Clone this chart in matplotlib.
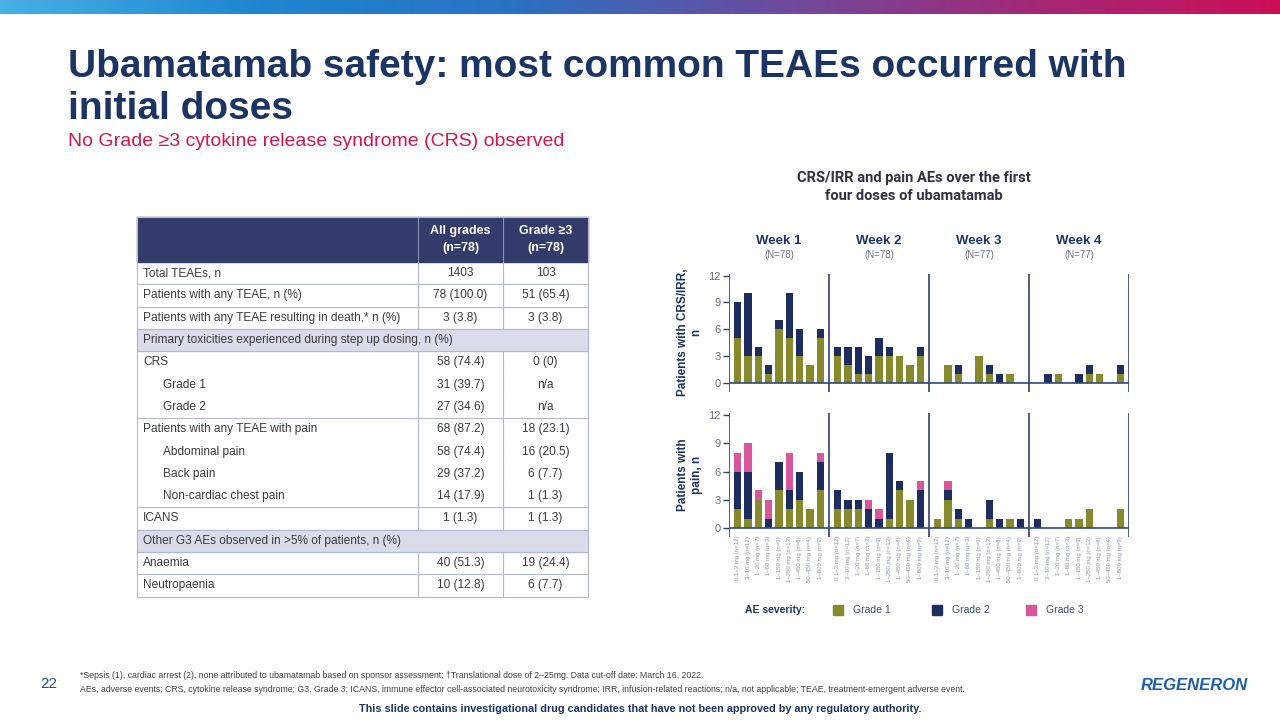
import numpy as np
import matplotlib.pyplot as plt
from matplotlib.colors import LinearSegmentedColormap
from matplotlib.patches import Rectangle

plt.rcParams['font.family'] = ['Liberation Sans', 'DejaVu Sans']

W, H = 1280, 720

weeks = ['Week 1', 'Week 2', 'Week 3', 'Week 4']
week_n = ['(N=78)', '(N=78)', '(N=77)', '(N=77)']
doses = ['0.1–3 mg (n=12)', '3–10 mg (n=12)', '1–20 mg (n=7)', '1–60 mg (n=3)',
         '1–150 mg (n=9)', '1–250 mg (n=13)', '1–450 mg (n=8)', '50–450 mg (n=4)',
         '1–800 mg (n=9)']

# CRS/IRR patients, 9 dose cohorts per week (weeks 1-4)
crs_g1 = [5, 3, 3, 1, 6, 5, 3, 2, 5,
          3, 2, 1, 1, 3, 3, 3, 2, 3,
          0, 2, 1, 0, 3, 1, 0, 1, 0,
          0, 0, 1, 0, 0, 1, 1, 0, 1]
crs_g2 = [4, 7, 1, 1, 1, 5, 3, 0, 1,
          1, 2, 3, 2, 2, 1, 0, 0, 1,
          0, 0, 1, 0, 0, 1, 1, 0, 0,
          0, 1, 0, 0, 1, 1, 0, 0, 1]

# pain patients
pain_g1 = [2, 1, 3, 0, 4, 2, 3, 2, 4,
           2, 2, 2, 0, 0, 1, 4, 3, 0,
           1, 3, 1, 0, 0, 1, 0, 1, 0,
           0, 0, 0, 1, 1, 2, 0, 0, 2]
pain_g2 = [4, 5, 0, 1, 3, 2, 3, 0, 3,
           2, 1, 1, 2, 1, 7, 1, 0, 4,
           0, 1, 1, 1, 0, 2, 1, 0, 1,
           1, 0, 0, 0, 0, 0, 0, 0, 0]
pain_g3 = [2, 3, 1, 2, 0, 4, 0, 0, 1,
           0, 0, 0, 1, 1, 0, 0, 0, 1,
           0, 1, 0, 0, 0, 0, 0, 0, 0,
           0, 0, 0, 0, 0, 0, 0, 0, 0]

# table
row_labels = ['Total TEAEs, n', 'Patients with any TEAE, n (%)',
              'Patients with any TEAE resulting in death,* n (%)',
              'Primary toxicities experienced during step up dosing, n (%)',
              'CRS', 'Grade 1', 'Grade 2', 'Patients with any TEAE with pain',
              'Abdominal pain', 'Back pain', 'Non-cardiac chest pain', 'ICANS',
              'Other G3 AEs observed in >5% of patients, n (%)',
              'Anaemia', 'Neutropaenia']
all_grades = ['1403', '78 (100.0)', '3 (3.8)', '', '58 (74.4)', '31 (39.7)',
              '27 (34.6)', '68 (87.2)', '58 (74.4)', '29 (37.2)', '14 (17.9)',
              '1 (1.3)', '', '40 (51.3)', '10 (12.8)']
grade3 = ['103', '51 (65.4)', '3 (3.8)', '', '0 (0)', 'n/a', 'n/a',
          '18 (23.1)', '16 (20.5)', '6 (7.7)', '1 (1.3)', '1 (1.3)', '',
          '19 (24.4)', '6 (7.7)']
row_kind = ['n', 'n', 'n', 'sec', 'n', 'sub', 'sub', 'n', 'sub', 'sub', 'sub',
            'n', 'sec', 'n', 'n']
line_below = [1, 1, 1, 1, 0, 0, 1, 0, 0, 0, 1, 1, 1, 1, 1]

olive = '#868a2c'
navy = '#1d2d5e'
pink = '#d7579b'
title_col = '#1c3461'
txt = '#3c3c3c'

fig = plt.figure(figsize=(12.8, 7.2), dpi=100)


def px_axes(x0, y0, x1, y1):
    return fig.add_axes([x0 / W, 1 - y1 / H, (x1 - x0) / W, (y1 - y0) / H])


# gradient band at the top
band = px_axes(0, 0, W, 14)
cmap = LinearSegmentedColormap.from_list(
    'band', ['#45b1e4', '#1d86d0', '#2a72c2', '#6a4d9f', '#a12a78', '#cc0f55'])
band.imshow(np.linspace(0, 1, 256)[None, :], aspect='auto', cmap=cmap)
band.axis('off')

ov = fig.add_axes([0, 0, 1, 1])
ov.set_xlim(0, W)
ov.set_ylim(H, 0)
ov.axis('off')

ov.text(68, 88, 'Ubamatamab safety: most common TEAEs occurred with\ninitial doses',
        fontsize=28, fontweight='bold', color=title_col, va='center',
        linespacing=1.2)
ov.text(68, 142, 'No Grade ≥3 cytokine release syndrome (CRS) observed',
        fontsize=14, color='#d3184f', va='center')

# ---- table ----
tx0, tx1, tx2, tx3 = 137, 418, 503, 588
hy0, hy1 = 217, 262
rh = 22.3
grid = '#b4b8cf'
fs = 8.6
ov.add_patch(Rectangle((tx0, hy0), tx3 - tx0, hy1 - hy0, color='#333b6b'))
ov.text((tx1 + tx2) / 2, (hy0 + hy1) / 2, 'All grades\n(n=78)', color='white',
        fontsize=9, fontweight='bold', ha='center', va='center',
        linespacing=1.45)
ov.text((tx2 + tx3) / 2, (hy0 + hy1) / 2, 'Grade ≥3\n(n=78)', color='white',
        fontsize=9, fontweight='bold', ha='center', va='center',
        linespacing=1.45)
ov.plot([tx1, tx1], [hy0, hy1], color='#8a90b0', lw=0.8)
ov.plot([tx2, tx2], [hy0, hy1], color='#8a90b0', lw=0.8)
for i, lab in enumerate(row_labels):
    y0 = hy1 + i * rh
    yc = y0 + rh / 2
    if row_kind[i] == 'sec':
        ov.add_patch(Rectangle((tx0, y0), tx3 - tx0, rh, color='#d9dce9'))
        ov.text(tx0 + 6, yc, lab, fontsize=fs, color=txt, va='center')
    else:
        xl = tx0 + 26 if row_kind[i] == 'sub' else tx0 + 6
        ov.text(xl, yc, lab, fontsize=fs, color=txt, va='center')
        ov.text((tx1 + tx2) / 2, yc, all_grades[i], fontsize=fs, color=txt,
                ha='center', va='center')
        ov.text((tx2 + tx3) / 2, yc, grade3[i], fontsize=fs, color=txt,
                ha='center', va='center')
        ov.plot([tx1, tx1], [y0, y0 + rh], color=grid, lw=0.8)
        ov.plot([tx2, tx2], [y0, y0 + rh], color=grid, lw=0.8)
    if line_below[i]:
        ov.plot([tx0, tx3], [y0 + rh, y0 + rh], color=grid, lw=0.8)
ty_end = hy1 + len(row_labels) * rh
ov.plot([tx0, tx0], [hy0, ty_end], color=grid, lw=0.8)
ov.plot([tx3, tx3], [hy0, ty_end], color=grid, lw=0.8)
ov.plot([tx0, tx3], [hy0, hy0], color=grid, lw=0.8)

# ---- chart ----
ov.text(914, 187, 'CRS/IRR and pain AEs over the first\nfour doses of ubamatamab',
        fontsize=10.5, fontweight='bold', color='#2e3142', ha='center',
        va='center', linespacing=1.35, family=['Roboto', 'DejaVu Sans'])

week_w = 9.7
nd = len(doses)
x = np.array([w * week_w + 0.85 + s for w in range(len(weeks)) for s in range(nd)])

for w in range(len(weeks)):
    xc = 729 + (w + 0.5) * 100
    ov.text(xc, 241, weeks[w], fontsize=9.5, fontweight='bold', color=title_col,
            ha='center', va='center')
    ov.text(xc, 255, week_n[w], fontsize=7, color='#6a6f80', ha='center',
            va='center')


def setup(ax):
    ax.set_xlim(0, week_w * len(weeks))
    ax.set_ylim(-1, 12.3)
    for sp in ax.spines.values():
        sp.set_visible(False)
    ax.vlines([week_w * w for w in range(len(weeks) + 1)], -0.95, 12.2,
              color='#33406a', lw=1.2)
    ax.hlines(0, 0, week_w * len(weeks), color='#2c4a80', lw=1.2)
    ax.set_yticks([0, 3, 6, 9, 12])
    ax.tick_params(axis='y', length=4, width=1, color='#33406a',
                   labelcolor='#6a6f80', labelsize=8, pad=2)
    ax.patch.set_alpha(0)


bw = 0.72
ax1 = px_axes(729, 392.5 - 13.3 * 9.0, 1129, 392.5)
setup(ax1)
g1 = np.array(crs_g1)
g2 = np.array(crs_g2)
ax1.bar(x, g1, bw, color=olive)
ax1.bar(x, g2, bw, bottom=g1, color=navy)
ax1.set_xticks([])
ax1.set_ylabel('Patients with CRS/IRR,\nn', fontsize=8.5, fontweight='bold',
               color=title_col, labelpad=4)

ax2 = px_axes(729, 537.4 - 13.3 * 9.4, 1129, 537.4)
setup(ax2)
p1 = np.array(pain_g1)
p2 = np.array(pain_g2)
p3 = np.array(pain_g3)
ax2.bar(x, p1, bw, color=olive)
ax2.bar(x, p2, bw, bottom=p1, color=navy)
ax2.bar(x, p3, bw, bottom=p1 + p2, color=pink)
ax2.set_xticks(x)
ax2.set_xticklabels(doses * len(weeks), rotation=90, fontsize=4.3,
                    color='#8a93b3')
ax2.tick_params(axis='x', length=0, pad=-1)
ax2.set_ylabel('Patients with\npain, n', fontsize=8.5, fontweight='bold',
               color=title_col, labelpad=4)

# legend
ov.text(745, 610, 'AE severity:', fontsize=7.5, fontweight='bold',
        color=title_col, va='center')
for xs, col, lab in [(833, olive, 'Grade 1'), (932, navy, 'Grade 2'),
                     (1026, pink, 'Grade 3')]:
    ov.add_patch(Rectangle((xs, 605), 10, 10, color=col))
    ov.text(xs + 20, 610, lab, fontsize=7.5, color='#3a4a7a', va='center')

# footer
ov.text(40, 684, '22', fontsize=11, color='#1f4f9a', va='center')
ov.text(80, 676, '*Sepsis (1), cardiac arrest (2), none attributed to ubamatamab '
        'based on sponsor assessment; †Translational dose of 2–25mg. '
        'Data cut-off date: March 16, 2022.', fontsize=6.3, color='#404040',
        va='center')
ov.text(80, 689, 'AEs, adverse events; CRS, cytokine release syndrome; G3, Grade 3; '
        'ICANS, immune effector cell-associated neurotoxicity syndrome; IRR, '
        'infusion-related reactions; n/a, not applicable; TEAE, '
        'treatment-emergent adverse event.', fontsize=6.3, color='#404040',
        va='center')
ov.text(640, 709, 'This slide contains investigational drug candidates that have '
        'not been approved by any regulatory authority.', fontsize=7.8,
        fontweight='bold', color=title_col, ha='center', va='center')
ov.text(1248, 686, 'REGENERON', fontsize=12, fontweight='bold', style='italic',
        color='#1f5fa8', ha='right', va='center')

fig.savefig('out.png', dpi=100)
